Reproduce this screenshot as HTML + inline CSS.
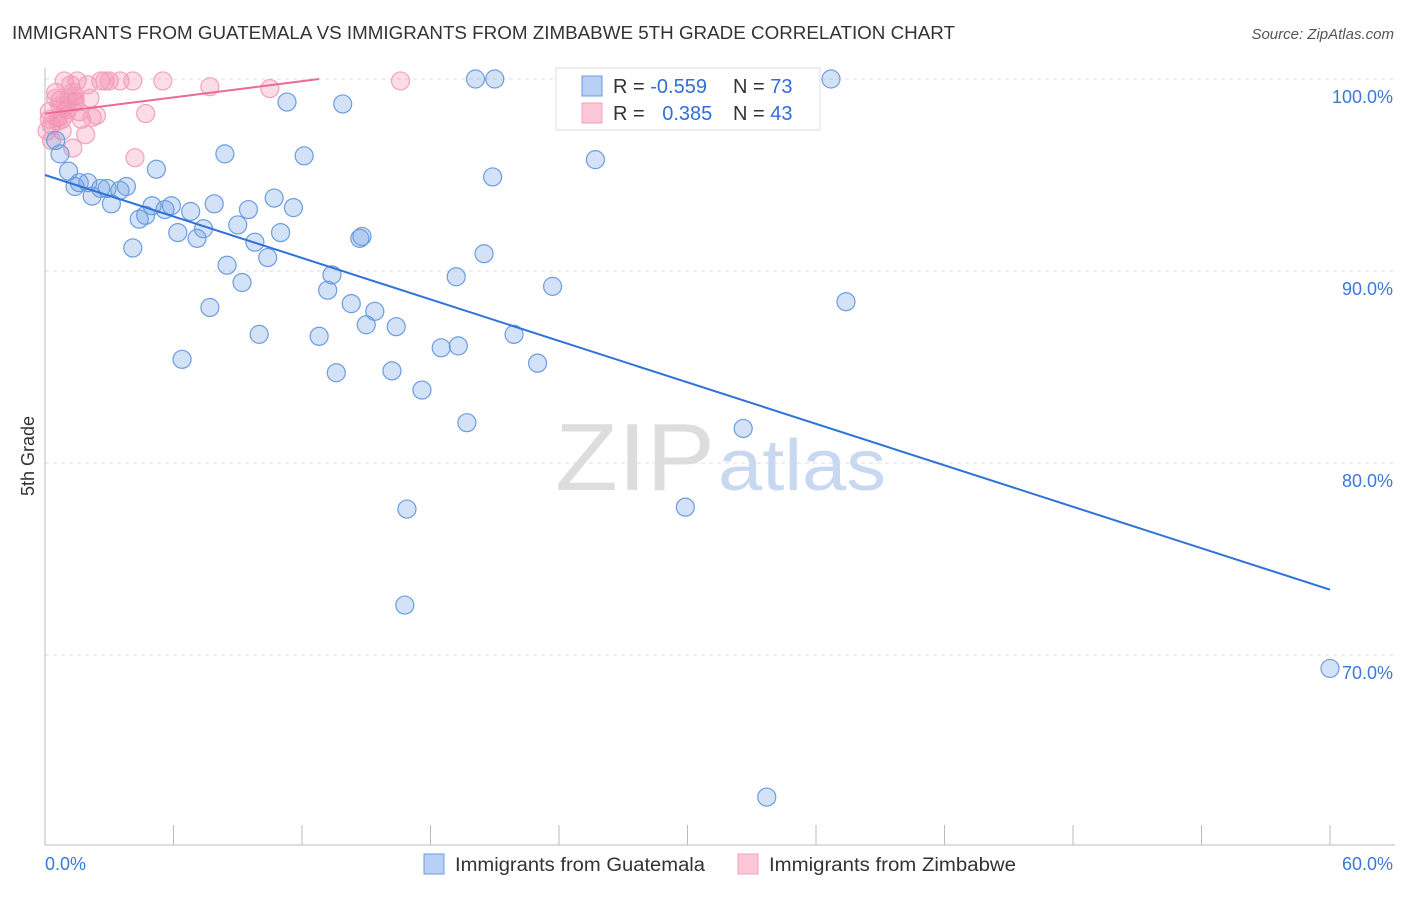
<!DOCTYPE html>
<html><head><meta charset="utf-8"><style>
body{margin:0;background:#fff;font-family:"Liberation Sans",sans-serif;}
svg text{font-family:"Liberation Sans",sans-serif;}
</style></head><body>
<svg id="chart" width="1406" height="892">
<text x="12" y="39" font-size="18" fill="#333" textLength="943" lengthAdjust="spacingAndGlyphs">IMMIGRANTS FROM GUATEMALA VS IMMIGRANTS FROM ZIMBABWE 5TH GRADE CORRELATION CHART</text>
<text x="1394" y="39" font-size="15" fill="#555" text-anchor="end" font-style="italic">Source: ZipAtlas.com</text>
<text x="34" y="456" font-size="18" fill="#333" transform="rotate(-90 34 456)" text-anchor="middle">5th Grade</text>
<text x="555" y="490" font-size="96" fill="#ddd" font-family="Liberation Serif" textLength="160" lengthAdjust="spacingAndGlyphs">ZIP</text>
<text x="718" y="490" font-size="72" fill="#c8d8f0" textLength="168" lengthAdjust="spacingAndGlyphs">atlas</text>
<g id="grid"></g><g id="axes"></g><g id="pts"></g><g id="trend"></g>
<g>
<rect x="556" y="68" width="264" height="62" fill="#fff" stroke="#ddd"/>
<rect x="582" y="76" width="20" height="20" fill="#b8d0f5" stroke="#6a9de0"/>
<rect x="582" y="103" width="20" height="20" fill="#fcc8d8" stroke="#f0a0bb"/>
<text x="613" y="93" font-size="20" fill="#333">R = <tspan fill="#2f6fd6">-0.559</tspan></text>
<text x="733" y="93" font-size="20" fill="#333">N = <tspan fill="#2f6fd6">73</tspan></text>
<text x="613" y="120" font-size="20" fill="#333">R = <tspan fill="#2f6fd6" dx="12">0.385</tspan></text>
<text x="733" y="120" font-size="20" fill="#333">N = <tspan fill="#2f6fd6">43</tspan></text>
</g>
<g>
<rect x="424" y="854" width="20" height="20" fill="#b8d0f5" stroke="#6a9de0"/>
<text x="455" y="871" font-size="19" fill="#333" textLength="250" lengthAdjust="spacingAndGlyphs">Immigrants from Guatemala</text>
<rect x="738" y="854" width="20" height="20" fill="#fcc8d8" stroke="#f0a0bb"/>
<text x="769" y="871" font-size="19" fill="#333" textLength="247" lengthAdjust="spacingAndGlyphs">Immigrants from Zimbabwe</text>
</g>
</svg>
<script>
const yTicks=[100,90,80,70];
const yTickLabels=["100.0%","90.0%","80.0%","70.0%"];
const xTicks=[0,6,12,18,24,30,36,42,48,54,60];
const blueX=[0.5,0.7,1.1,1.4,1.6,2.0,2.2,2.6,2.9,3.1,3.5,3.8,4.1,4.4,4.7,5.0,5.2,5.6,5.9,6.2,6.4,6.8,7.1,7.4,7.7,7.9,8.4,8.5,9.0,9.2,9.5,9.8,10.0,10.4,10.7,11.0,11.3,11.6,12.1,12.8,13.2,13.4,13.6,13.9,14.3,14.7,14.8,15.0,15.4,16.2,16.4,16.8,16.9,17.6,18.5,19.2,19.3,19.7,20.1,20.5,20.9,21.0,21.9,23.0,23.7,25.7,29.9,32.6,33.7,36.7,37.4,60.0];
const blueY=[96.8,96.1,95.2,94.4,94.6,94.6,93.9,94.3,94.3,93.5,94.2,94.4,91.2,92.7,92.9,93.4,95.3,93.2,93.4,92.0,85.4,93.1,91.7,92.2,88.1,93.5,96.1,90.3,92.4,89.4,93.2,91.5,86.7,90.7,93.8,92.0,98.8,93.3,96.0,86.6,89.0,89.8,84.7,98.7,88.3,91.7,91.8,87.2,87.9,84.8,87.1,72.6,77.6,83.8,86.0,89.7,86.1,82.1,100,90.9,94.9,100,86.7,85.2,89.2,95.8,77.7,81.8,62.6,100,88.4,69.3];
const pinkX=[0.2,0.3,0.5,0.6,0.7,0.8,0.8,0.9,1.0,1.2,1.3,1.4,1.4,1.5,1.6,1.7,1.9,2.0,2.1,2.2,2.4,2.6,2.8,3.0,3.5,4.1,4.2,4.7,5.5,7.7,10.5,16.6,0.3,0.5,0.7,1.1,1.3,0.1,0.2,0.9,1.4,0.6,1.0];
const pinkY=[98.3,97.6,99.3,98.0,98.9,97.9,97.3,99.9,98.4,99.7,99.3,98.8,99.1,99.9,98.3,97.9,97.1,99.7,99.0,98.0,98.1,99.9,99.9,99.9,99.9,99.9,95.9,98.2,99.9,99.6,99.5,99.9,96.8,99.0,98.6,99.0,96.4,97.3,97.9,98.5,98.9,97.8,98.2];
const blueTrendX=[0,60], blueTrendY=[95.0,73.4];
const pinkTrendX=[0,12.8], pinkTrendY=[98.2,100];
const NS="http://www.w3.org/2000/svg";
const sx=v=>45+v/60*1285, sy=v=>79+(100-v)*19.2;
function mk(t,a,p){const e=document.createElementNS(NS,t);for(const k in a)e.setAttribute(k,a[k]);p.appendChild(e);return e;}
const grid=document.getElementById('grid'),axes=document.getElementById('axes'),pts=document.getElementById('pts'),tr=document.getElementById('trend');
yTicks.forEach((v,i)=>{
 const l=mk('line',{x1:45,x2:1395,y1:sy(v),y2:sy(v),stroke:'#ddd','stroke-dasharray':'4,4'},grid);
 
 
 const t=mk('text',{x:1393,y:sy(v)+24,'font-size':18,fill:'#3b78d8','text-anchor':'end'},grid);
 t.textContent=yTickLabels[i];
 
 
});
const ax=mk('path',{d:'M45 68V845H1395',fill:'none',stroke:'#bbb'},axes);


xTicks.forEach(v=>{
 const l=mk('line',{x1:sx(v),x2:sx(v),y1:825,y2:845,stroke:'#bbb'},axes);
 
 
});
const xl=mk('text',{x:45,y:870,'font-size':18,fill:'#3b78d8'},axes);xl.textContent='0.0%';


const xr=mk('text',{x:1393,y:870,'font-size':18,fill:'#3b78d8','text-anchor':'end'},axes);xr.textContent='60.0%';


pinkX.forEach((x,i)=>{
 const c=mk('circle',{cx:sx(x),cy:sy(pinkY[i]),r:9,fill:'rgba(244,140,175,0.3)',stroke:'#f2a2bd','stroke-width':1.2},pts);
 
 
});
blueX.forEach((x,i)=>{
 const c=mk('circle',{cx:sx(x),cy:sy(blueY[i]),r:9,fill:'rgba(110,160,230,0.3)',stroke:'#6a9de0','stroke-width':1.2},pts);
 
 
});
const bt=mk('line',{x1:sx(blueTrendX[0]),y1:sy(blueTrendY[0]),x2:sx(blueTrendX[1]),y2:sy(blueTrendY[1]),stroke:'#2f72d8','stroke-width':2},tr);


const pt=mk('line',{x1:sx(pinkTrendX[0]),y1:sy(pinkTrendY[0]),x2:sx(pinkTrendX[1]),y2:sy(pinkTrendY[1]),stroke:'#ec6994','stroke-width':2},tr);


</script>
</body></html>
